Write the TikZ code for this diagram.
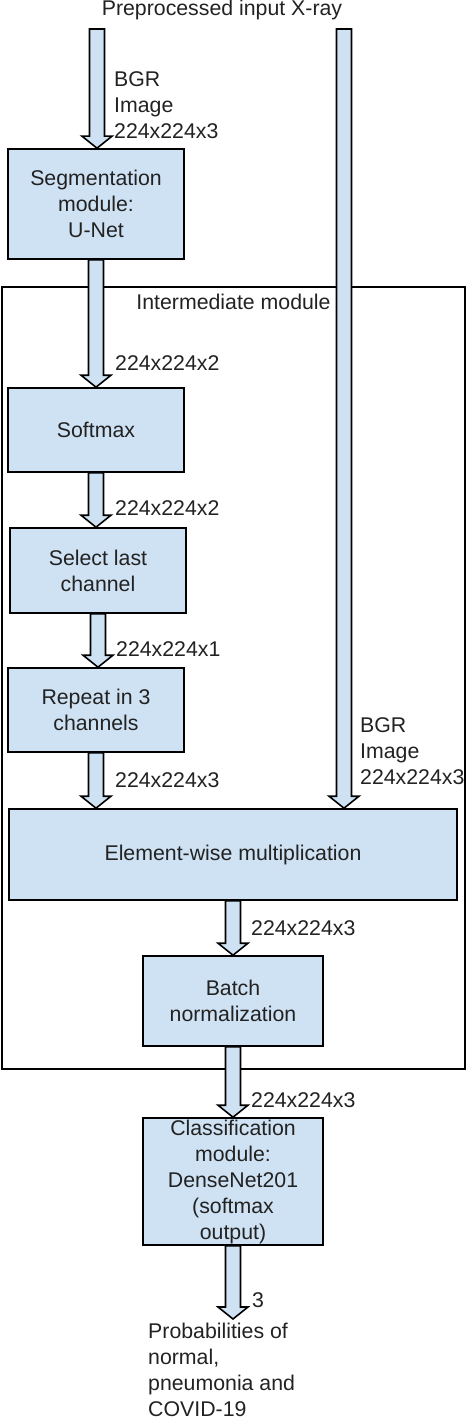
\documentclass[tikz,border=0pt]{standalone}
\usepackage{fontspec}
\setmainfont{Liberation Sans}
\usetikzlibrary{calc}

\definecolor{boxblue}{HTML}{CFE2F3}
\definecolor{inkgray}{HTML}{222222}

\tikzset{
    module/.style={draw=black, line width=1.6pt, fill=boxblue, inner sep=0pt, align=center, text=inkgray},
    fatarrow/.style={draw=black, line width=1.6pt, fill=boxblue, line join=miter},
    dimlabel/.style={anchor=west, inner sep=0pt, align=left, text=inkgray},
}

% block arrow from one node down to another
\newcommand{\flowarrow}[2]{%
    \draw[fatarrow] let \p1=(#1), \p2=(#2) in
        (\x1-7.5pt,\y1) -- (\x1-7.5pt,\y2+12pt) -- (\x1-15pt,\y2+12pt) -- (\x1,\y2)
        -- (\x1+15pt,\y2+12pt) -- (\x1+7.5pt,\y2+12pt) -- (\x1+7.5pt,\y1) -- cycle;}

\begin{document}
\begin{tikzpicture}[x=1pt, y=-1pt, font=\fontsize{21.3}{26}\selectfont]
        \useasboundingbox (0,0) rectangle (466,1418);

        % Frame
        \node[draw=black, line width=1.6pt, minimum width=463pt, minimum height=782pt, inner sep=0pt] (intermod) at (233.5,678) {};
        \node[inner sep=0pt, text=inkgray] (intertitle) at (233.5,302) {Intermediate module};

        % Input
        \node[inner sep=0pt, text=inkgray] (title) at (222,10) {Preprocessed input X-ray};
        \coordinate (xin) at (97,29);
        \coordinate (xinright) at (344,29);

        % Modules
        \node[module, minimum width=176pt, minimum height=110pt] (seg) at (96,204) {Segmentation\\module:\\U-Net};
        \node[module, minimum width=176pt, minimum height=84pt] (softmax) at (96,430) {Softmax};
        \node[module, minimum width=176pt, minimum height=85pt] (select) at (98,570.5) {Select last\\channel};
        \node[module, minimum width=176pt, minimum height=84pt] (repeat) at (96,710) {Repeat in 3\\channels};
        \node[module, minimum width=448pt, minimum height=91pt] (mult) at (233,854.5) {Element-wise multiplication};
        \node[module, minimum width=180pt, minimum height=90pt] (batchnorm) at (233,1001) {Batch\\normalization};
        \node[module, minimum width=180pt, minimum height=127pt] (classify) at (233,1181.5) {Classification\\module:\\DenseNet201\\(softmax\\output)};
        \coordinate (probs) at (234,1319);

        % Arrows
        \flowarrow{xin}{seg.north}
        \flowarrow{seg.south}{softmax.north}
        \flowarrow{softmax.south}{select.north}
        \flowarrow{select.south}{repeat.north}
        \flowarrow{repeat.south}{mult.north}
        \flowarrow{xinright}{mult.north}
        \flowarrow{mult.south}{batchnorm.north}
        \flowarrow{batchnorm.south}{classify.north}
        \flowarrow{classify.south}{probs}

        % Labels
        \node[dimlabel] (lblbgr) at (114,105) {BGR\\Image\\224x224x3};
        \node[dimlabel] (lblseg) at (115,363) {224x224x2};
        \node[dimlabel] (lblsoft) at (115,508) {224x224x2};
        \node[dimlabel] (lblsel) at (116,649) {224x224x1};
        \node[dimlabel] (lblrep) at (115,780) {224x224x3};
        \node[dimlabel] (lblbgrright) at (360,751.5) {BGR\\Image\\224x224x3};
        \node[dimlabel] (lblmult) at (251,928) {224x224x3};
        \node[dimlabel] (lblbatch) at (251,1100) {224x224x3};
        \node[dimlabel] (lblout) at (252,1300) {3};
        \node[dimlabel] (output) at (148,1369.5) {Probabilities of\\normal,\\pneumonia and\\COVID-19};

\end{tikzpicture}
\end{document}
